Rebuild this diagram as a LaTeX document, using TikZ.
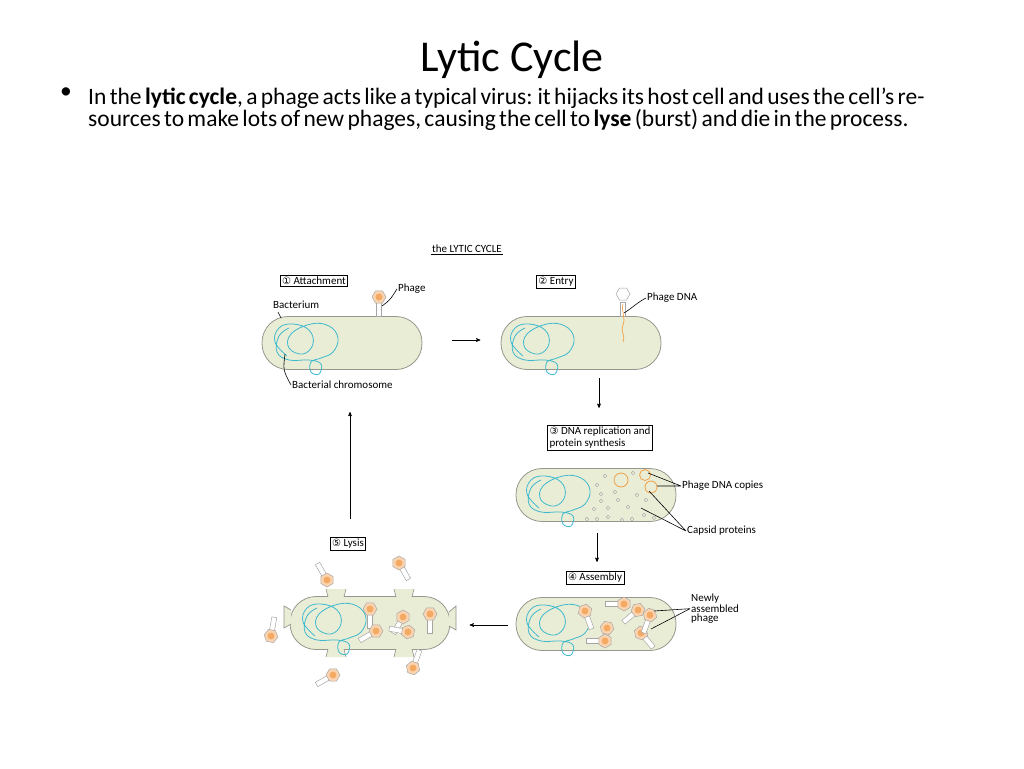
\documentclass[tikz,border=0pt]{standalone}
\usepackage{fontspec}
\setmainfont{Carlito}
\newfontfamily\symfont{DejaVu Sans}
\usetikzlibrary{arrows}
\usetikzlibrary{positioning}

\definecolor{cellfill}{RGB}{234,237,214}
\definecolor{cellline}{RGB}{150,150,140}
\definecolor{chromoblue}{RGB}{60,185,205}
\definecolor{headorange}{RGB}{245,170,100}
\definecolor{dnaorange}{RGB}{240,160,70}

\newcommand{\hand}{\fontsize{11}{12}\selectfont}
\newcommand{\circnum}[1]{{\symfont\fontsize{10}{10}\selectfont #1}}

\tikzset{
    cell/.style={draw=cellline, fill=cellfill, rounded corners=26pt, minimum width=160pt, minimum height=53pt, line width=0.8pt},
    stepbox/.style={draw, line width=0.8pt, inner sep=2pt, font=\hand},
    note/.style={font=\hand, inner sep=1pt},
    chromo/.style={chromoblue, line width=0.8pt},
    pointer/.style={line width=0.6pt},
    cycle/.style={->, >=stealth', line width=0.6pt},
    capsid/.style={draw=gray!70, line width=0.4pt},
    phage/.pic={
        \draw[draw=gray!70, fill=white, line width=0.5pt] (-2.5,5) rectangle (2.5,19);
        \draw[draw=gray!70, fill=headorange!50, line width=0.5pt]
            (0:7) -- (60:7) -- (120:7) -- (180:7) -- (240:7) -- (300:7) -- cycle;
        \fill[headorange] (0,0) circle (3.5);
    }
}

\newcommand{\chromosome}[2]{%
    \draw[chromo, shift={(#1,#2)}] plot[smooth, tension=0.7] coordinates {
        (24,40) (12,26) (16,12) (30,8) (46,14) (50,28) (40,38) (26,32) (28,18)
        (48,8) (66,10) (75,22) (70,36) (58,42) (48,46) (48,56) (56,58) (58,48)
        (46,44) (26,44) (14,36) (16,20) (26,12)};}

\begin{document}
\begin{tikzpicture}[x=1pt, y=-1pt]
    \useasboundingbox (0,0) rectangle (1024,768);
    % heading
    \node (title) at (512,60) {\fontsize{44}{48}\selectfont Lytic Cycle};
    \node[anchor=north west, text width=890pt, inner sep=0pt] (bullet) at (88,88)
        {\fontsize{23.5}{27.5}\selectfont
         In the \textbf{lytic cycle}, a phage acts like a typical virus: it hijacks its host cell and
         uses the cell's resources to make lots of new phages, causing the cell to \textbf{lyse}
         (burst) and die in the process.};
    \node[left=22pt of bullet.north west, anchor=north, inner sep=0pt] (dot)
        {\fontsize{23.5}{27.5}\selectfont\textbullet};
    \node[note] (heading) at (467,249) {the LYTIC CYCLE};
    \draw[line width=0.6pt] (heading.south west) -- (heading.south east);

    % cells
    \node[cell] (c1) at (342,343) {};
    \node[cell] (c2) at (581,343) {};
    \node[cell] (c3) at (596,495) {};
    \node[cell] (c4) at (596,624) {};
    \node[cell] (c5) at (370,623) {};
    % torn membrane of the lysing cell
    \foreach \x in {336,404} {
        \fill[cellfill] (\x-8,597) -- (\x-10,589) -- (\x+10,589) -- (\x+8,597) -- cycle;
        \draw[cellline, line width=0.7pt] (\x-8,597) -- (\x-10,589) (\x+10,589) -- (\x+8,597);
        \fill[cellfill] (\x-8,649) -- (\x-10,657) -- (\x+10,657) -- (\x+8,649) -- cycle;
        \draw[cellline, line width=0.7pt] (\x-8,649) -- (\x-10,657) (\x+10,657) -- (\x+8,649);
    }
    \draw[cellline, fill=cellfill, line width=0.7pt] (291,610) -- (284,606) -- (284,628) -- (291,624);
    \draw[cellline, fill=cellfill, line width=0.7pt] (449,612) -- (456,606) -- (456,630) -- (449,626);

    \chromosome{263}{316}
    \chromosome{499}{316}
    \chromosome{515}{468}
    \chromosome{515}{597}
    \chromosome{291}{596}

    % step labels
    \node[stepbox] (s1) at (314,281) {\circnum{①} Attachment};
    \node[stepbox] (s2) at (556,282) {\circnum{②} Entry};
    \node[stepbox, align=left] (s3) at (600,438) {\circnum{③} DNA replication and\\protein synthesis};
    \node[stepbox] (s4) at (595,578) {\circnum{④} Assembly};
    \node[stepbox] (s5) at (348,544) {\circnum{⑤} Lysis};

    % cycle arrows
    \draw[cycle] (c1.east) ++(30,-3) coordinate (a1) -- ++(28,0);
    \draw[cycle] (c2.south) ++(18,8) -- ++(0,30);
    \draw[cycle] (c3.south) ++(1,11) -- ++(0,29);
    \draw[cycle] (c4.west) ++(-8,1) -- ++(-38,0);
    \draw[cycle] (350,519) -- (350,412);

    % 1 attachment
    \pic at (379,297) {phage};
    \node[note, anchor=west] (lphage) at (397,289) {Phage};
    \draw[pointer] (382,306) .. controls (390,300) .. (lphage.west);
    \node[note, anchor=west] (lbact) at (272,305) {Bacterium};
    \draw[pointer] (278,312) -- (281,318);
    \node[note, anchor=west] (lchromo) at (291,385) {Bacterial chromosome};
    \draw[pointer] (285,354) .. controls (283,370) .. (lchromo.west);

    % 2 entry
    \draw[draw=gray!70, fill=white, line width=0.5pt] (620.5,302) rectangle (625.5,316);
    \draw[draw=gray!70, fill=white, line width=0.5pt]
        (630,294) -- (626.5,300) -- (619.5,300) -- (616,294) -- (619.5,288) -- (626.5,288) -- cycle;
    \draw[dnaorange, line width=0.7pt] (623,304) .. controls (621,312) and (626,318) .. (623,325)
        .. controls (620,332) and (626,336) .. (623,342);
    \node[note, anchor=west] (ldna) at (646,298) {Phage DNA};
    \draw[pointer] (624,313) .. controls (632,308) and (638,302) .. (ldna.west);

    % 3 replication
    \foreach \x/\y in {597/485, 601/494, 594/509, 608/508, 618/500, 628/507, 637/495, 646/500,
                       633/473, 605/476, 587/519, 597/519, 608/517, 622/520, 632/519, 644/515,
                       654/518, 601/501, 615/492}
        \draw[capsid] (\x,\y) circle (1.8);
    \foreach \x/\y/\r in {621/480/7, 645/475/5.5, 651/487/6}
        \draw[dnaorange, line width=0.8pt] (\x,\y) circle (\r);
    \node[note, anchor=west] (lcopies) at (681,486) {Phage DNA copies};
    \draw[pointer] (648,473) -- (lcopies.west) (657,486) -- (lcopies.west);
    \node[note, anchor=west] (lcapsid) at (686,531) {Capsid proteins};
    \draw[pointer] (649,491) -- (lcapsid.west) (641,508) -- (lcapsid.west);

    % 4 assembly
    \foreach \x/\y/\a in {585/611/20, 624/604/-90, 607/628/-10, 638/610/-50, 641/633/40,
                          605/641/-90, 650/615/-20}
        \pic[rotate=\a] at (\x,\y) {phage};
    \node[note, anchor=north west, align=left, font=\fontsize{11}{9}\selectfont] (lnew) at (690,593)
        {Newly\\assembled\\phage};
    \draw[pointer] (654,611) -- (lnew.west) (651,629) -- (lnew.west);

    % 5 lysis
    \foreach \x/\y/\a in {327/580/-150, 399/563/30, 271/636/170, 333/675/-60, 413/668/160,
                          370/609/0, 403/617/-30, 376/631/-60, 408/632/-100, 430/614/0}
        \pic[rotate=\a] at (\x,\y) {phage};
\end{tikzpicture}
\end{document}
